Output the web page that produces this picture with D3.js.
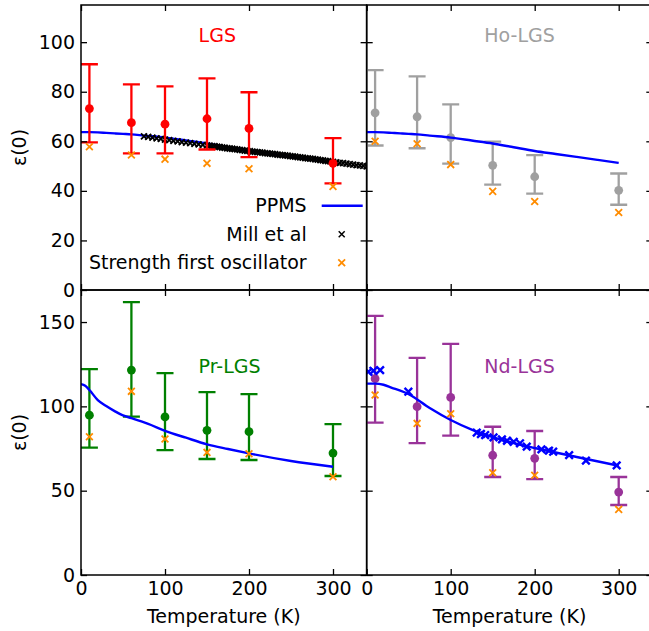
<!DOCTYPE html>
<html>
<head>
<meta charset="utf-8">
<script src="https://cdn.jsdelivr.net/npm/d3@7"></script>
<style>
  body { margin: 0; background: #fff; }
  svg { display: block; }
  text { font-family: "DejaVu Sans", sans-serif; }
</style>
</head>
<body>
<div id="app"></div>
<script>
// measured temperatures (K)
const temps = [10, 60, 100, 150, 200, 300]

// LGS
const lgsEps = [73.2, 67.5, 66.9, 69.1, 65.2, 51.1]
const lgsLo  = [59.6, 55.1, 55.1, 56.7, 53.6, 43.0]
const lgsHi  = [91.1, 83.0, 82.2, 85.4, 79.8, 61.3]
const lgsOsc = [57.8, 54.5, 52.8, 51.1, 48.9, 41.8]

// Ho-LGS
const hoEps = [71.5, 69.9, 61.5, 50.3, 45.7, 40.2]
const hoLo  = [58.3, 57.2, 51.0, 42.5, 38.9, 34.4]
const hoHi  = [88.7, 86.2, 74.9, 59.9, 54.4, 47.0]
const hoOsc = [60.0, 59.0, 50.6, 39.8, 35.7, 31.3]

// Pr-LGS
const prEps = [94.8, 121.5, 93.7, 85.8, 85.0, 72.3]
const prLo  = [75.5, 93.9, 74.1, 68.8, 68.2, 58.7]
const prHi  = [122.1, 161.8, 119.7, 108.5, 107.3, 89.5]
const prOsc = [82.0, 108.9, 80.6, 72.7, 71.9, 58.3]

// Nd-LGS
const ndEps = [116.4, 99.8, 105.3, 71.0, 69.2, 49.2]
const ndLo  = [90.3, 78.2, 82.6, 58.1, 56.9, 41.5]
const ndHi  = [153.7, 128.8, 137.1, 87.9, 85.4, 58.1]
const ndOsc = [106.7, 89.9, 95.6, 60.6, 59.1, 38.9]

// PPMS curves [T, eps]
const ppmsLgs = [[0,63.7],[10,63.7],[20,63.6],[30,63.4],[40,63.2],[50,63.0],[60,62.8],[75,62.3],[100,61.5],[125,60.3],[150,59.1],[175,57.6],[200,56.1],[225,54.9],[250,53.7],[275,52.5],[300,51.3]]
const ppmsPr = [[0,113.2],[5,112.2],[10,109.7],[20,103.7],[30,100.2],[40,97.2],[50,94.6],[60,93.0],[80,89.6],[100,85.5],[125,81.4],[150,77.5],[175,74.7],[200,72.1],[250,67.6],[300,64.2]]
const ppmsNd = [[0,113.5],[10,113.5],[20,112.8],[30,111.0],[40,109.3],[50,107.2],[75,99.0],[100,91.9],[125,86.2],[150,81.8],[175,78.2],[200,75.3],[250,70.0],[300,64.8]]
const ppmsNdPts = [[2,120.5],[8,121.1],[16,121.5],[49.6,108.7],[131,84.4],[136,83.6],[141,83.0],[151,81.6],[161,80.4],[167,79.6],[175,79.0],[182.5,78.1],[190.5,76.1],[208,74.5],[217,73.7],[222,73.1],[241,71.1],[261,67.8],[297.6,65.0]]

// Mill et al (LGS)
const millLgs = [[75,62.0],[80,61.8],[85,61.5],[90,61.2],[95,61.0],[100,60.7],[105,60.5],[110,60.2],[115,60.0],[120,59.7],[125,59.5],[130,59.3],[135,59.0],[140,58.8],[145,58.6],[150,58.4],
  [153,58.3],[156,58.1],[159,58.0],[162,57.8],[165,57.7],[168,57.5],[171,57.4],[174,57.2],[177,57.1],[180,57.0],[183,56.8],[186,56.7],[189,56.5],[192,56.4],[195,56.2],[198,56.1],
  [201,56.0],[204,55.8],[207,55.7],[210,55.6],[213,55.5],[216,55.4],[219,55.2],[222,55.1],[225,55.0],[228,54.9],[231,54.8],[234,54.6],[237,54.5],[240,54.4],[243,54.3],[246,54.2],[249,54.0],
  [252,53.9],[255,53.8],[258,53.6],[261,53.5],[264,53.4],[267,53.2],[270,53.1],[273,53.0],[276,52.9],[279,52.7],[282,52.6],[285,52.4],[288,52.3],[291,52.1],[294,52.0],[297,51.9],[300,51.7],
  [304,51.5],[308,51.3],[312,51.2],[316,51.0],[320,50.8],[324,50.6],[328,50.4],[332,50.3],[336,50.1],[340,49.9]]

const xTicks = [0, 100, 200, 300]
const legendLabels = ['PPMS', 'Mill et al', 'Strength first oscillator']

const W = 649, H = 631
const panelW = 285.6, panelH = 285
const FS = 19
const orange = '#ff8c00'
const blue = '#0000ff'

const svg = d3.select('#app').append('svg')
    .attr('width', W)
    .attr('height', H)

const xMark = h => `M${-h},${-h}L${h},${h}M${-h},${h}L${h},${-h}`

function panel(p) {
    const x0 = p.col === 0 ? 81 : 366.7
    const y0 = p.row === 0 ? 5 : 290
    const x = d3.scaleLinear().domain([0, 340]).range([x0, x0 + panelW])
    const y = d3.scaleLinear().domain([0, p.ymax]).range([y0 + panelH, y0])

    const g = svg.append('g')
    const clipId = 'clip-' + p.col + p.row
    g.append('clipPath').attr('id', clipId)
        .append('rect')
        .attr('x', x0).attr('y', y0).attr('width', panelW).attr('height', panelH)
    const plot = g.append('g').attr('clip-path', `url(#${clipId})`)

    const line = d3.line().x(d => x(d[0])).y(d => y(d[1])).curve(d3.curveMonotoneX)

    const drawLine = () => plot.append('path')
        .datum(p.ppms)
        .attr('d', line)
        .attr('fill', 'none')
        .attr('stroke', blue)
        .attr('stroke-width', 2.4)

    const drawExtra = () => {
        if (!p.extra) return
        plot.append('g').selectAll('path')
            .data(p.extra)
            .enter()
            .append('path')
            .attr('transform', d => `translate(${x(d[0])},${y(d[1])})`)
            .attr('d', xMark(p.extraSize))
            .attr('stroke', p.extraColor)
            .attr('stroke-width', p.extraWidth)
            .attr('fill', 'none')
    }

    const drawErr = () => {
        const eb = plot.append('g').selectAll('g')
            .data(temps.map((t, i) => ({t: t, v: p.eps[i], lo: p.lo[i], hi: p.hi[i]})))
            .enter()
            .append('g')
            .attr('stroke', p.color)
            .attr('stroke-width', 2.3)
        eb.append('line')
            .attr('x1', d => x(d.t)).attr('x2', d => x(d.t))
            .attr('y1', d => y(d.lo)).attr('y2', d => y(d.hi))
        eb.append('line')
            .attr('x1', d => x(d.t) - 8.5).attr('x2', d => x(d.t) + 8.5)
            .attr('y1', d => y(d.lo)).attr('y2', d => y(d.lo))
        eb.append('line')
            .attr('x1', d => x(d.t) - 8.5).attr('x2', d => x(d.t) + 8.5)
            .attr('y1', d => y(d.hi)).attr('y2', d => y(d.hi))
        eb.append('circle')
            .attr('cx', d => x(d.t)).attr('cy', d => y(d.v))
            .attr('r', 4.4)
            .attr('fill', p.color)
            .attr('stroke', 'none')
    }

    if (p.millOnTopOfLine) {
        drawLine(); drawExtra(); drawErr()
    } else {
        drawErr(); drawLine(); drawExtra()
    }

    // oscillator strength
    plot.append('g').selectAll('path')
        .data(temps.map((t, i) => [t, p.osc[i]]))
        .enter()
        .append('path')
        .attr('transform', d => `translate(${x(d[0])},${y(d[1])})`)
        .attr('d', xMark(3.4))
        .attr('stroke', orange)
        .attr('stroke-width', 1.8)
        .attr('fill', 'none')

    // title
    g.append('text')
        .attr('x', x(140))
        .attr('y', y(p.titleY))
        .attr('font-size', FS)
        .attr('fill', p.color)
        .text(p.name)

    // axes, ticks pointing inward
    const styleAxis = a => {
        a.select('.domain').remove()
        a.attr('font-size', FS).attr('font-family', '"DejaVu Sans", sans-serif')
        a.selectAll('.tick line').attr('stroke-width', 1.3)
        a.selectAll('.tick text').attr('fill', '#000')
    }
    const none = () => ''

    g.append('g')
        .attr('transform', `translate(0,${y0 + panelH})`)
        .call(d3.axisBottom(x).tickValues(xTicks).tickSizeInner(-6).tickSizeOuter(0).tickPadding(6.5)
            .tickFormat(p.row === 1 ? d3.format('d') : none))
        .call(styleAxis)
    g.append('g')
        .attr('transform', `translate(0,${y0})`)
        .call(d3.axisTop(x).tickValues(xTicks).tickSizeInner(-6).tickSizeOuter(0).tickFormat(none))
        .call(styleAxis)
    g.append('g')
        .attr('transform', `translate(${x0},0)`)
        .call(d3.axisLeft(y).tickValues(p.yTicks).tickSizeInner(-6).tickSizeOuter(0).tickPadding(6)
            .tickFormat(p.col === 0 ? d3.format('d') : none))
        .call(styleAxis)
    g.append('g')
        .attr('transform', `translate(${x0 + panelW},0)`)
        .call(d3.axisRight(y).tickValues(p.yTicks).tickSizeInner(-6).tickSizeOuter(0).tickFormat(none))
        .call(styleAxis)

    g.append('rect')
        .attr('x', x0).attr('y', y0).attr('width', panelW).attr('height', panelH)
        .attr('fill', 'none')
        .attr('stroke', '#000')
        .attr('stroke-width', 1.5)

    if (p.col === 0) {
        g.append('text')
            .attr('transform', `translate(26,${y0 + panelH / 2}) rotate(-90)`)
            .attr('text-anchor', 'middle')
            .attr('font-size', FS)
            .text('ε(0)')
    }
    if (p.row === 1) {
        g.append('text')
            .attr('x', x0 + panelW / 2)
            .attr('y', 622.7)
            .attr('text-anchor', 'middle')
            .attr('font-size', FS)
            .text('Temperature (K)')
    }
    return {x: x, y: y}
}

panel({name: 'LGS', col: 0, row: 0, color: '#ff0000', ymax: 115, yTicks: [0,20,40,60,80,100], titleY: 100,
    eps: lgsEps, lo: lgsLo, hi: lgsHi, osc: lgsOsc, ppms: ppmsLgs,
    extra: millLgs, extraColor: '#000', extraSize: 3, extraWidth: 1.8, millOnTopOfLine: true})
panel({name: 'Ho-LGS', col: 1, row: 0, color: '#a0a0a0', ymax: 115, yTicks: [0,20,40,60,80,100], titleY: 100,
    eps: hoEps, lo: hoLo, hi: hoHi, osc: hoOsc, ppms: ppmsLgs})
panel({name: 'Pr-LGS', col: 0, row: 1, color: '#008000', ymax: 169, yTicks: [0,50,100,150], titleY: 120,
    eps: prEps, lo: prLo, hi: prHi, osc: prOsc, ppms: ppmsPr})
panel({name: 'Nd-LGS', col: 1, row: 1, color: '#993399', ymax: 169, yTicks: [0,50,100,150], titleY: 120,
    eps: ndEps, lo: ndLo, hi: ndHi, osc: ndOsc, ppms: ppmsNd,
    extra: ppmsNdPts, extraColor: blue, extraSize: 3.8, extraWidth: 2.4})

// legend (top-left panel)
const legend = svg.append('g')
const rowY = [212.3, 240.7, 268.7]
legend.selectAll('text')
    .data(legendLabels)
    .enter()
    .append('text')
    .attr('x', 306.7)
    .attr('y', (d, i) => rowY[i])
    .attr('text-anchor', 'end')
    .attr('font-size', FS)
    .text(d => d)
legend.append('line')
    .attr('x1', 321.7).attr('x2', 362.7)
    .attr('y1', rowY[0] - 6.6).attr('y2', rowY[0] - 6.6)
    .attr('stroke', blue).attr('stroke-width', 2.4)
legend.append('path')
    .attr('transform', `translate(341.7,${rowY[1] - 6.4})`)
    .attr('d', xMark(3))
    .attr('stroke', '#000').attr('stroke-width', 1.5).attr('fill', 'none')
legend.append('path')
    .attr('transform', `translate(341.7,${rowY[2] - 6})`)
    .attr('d', xMark(3.4))
    .attr('stroke', orange).attr('stroke-width', 1.8).attr('fill', 'none')
</script>
</body>
</html>
